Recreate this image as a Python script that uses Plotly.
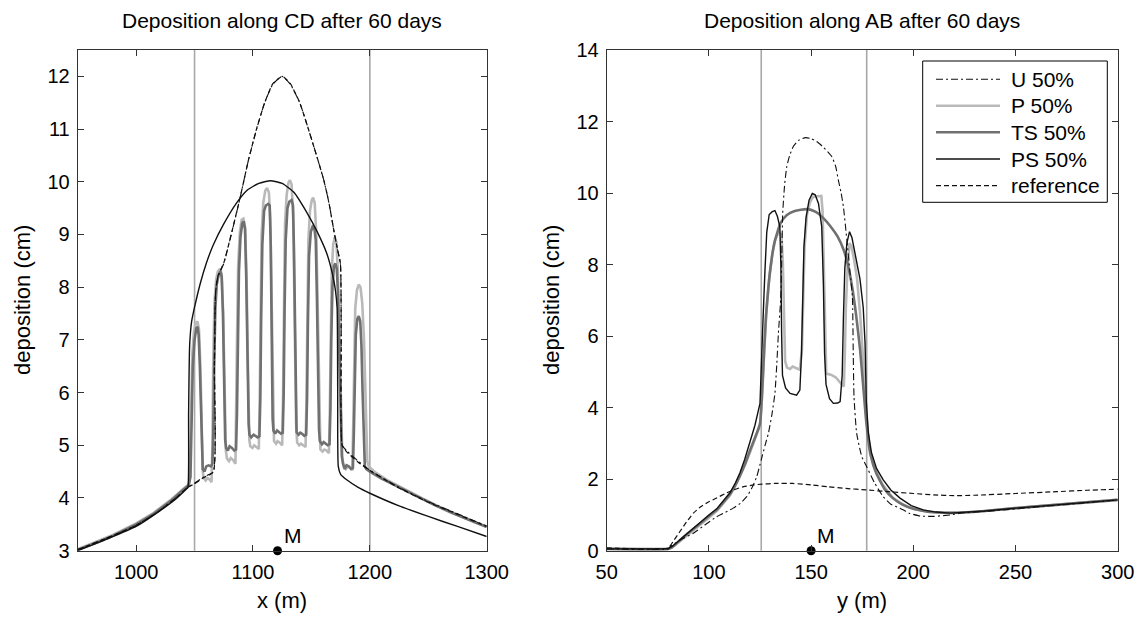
import plotly.graph_objects as go

# ---------------- data : left panel (along CD, x in m) ----------------
U_CD = [(950,3.02),(975,3.24),(1000,3.48),(1020,3.76),(1035,4.02),(1044,4.2),(1050,4.28),(1058,4.4),
        (1066,4.5),(1067,6.5),(1068,7.9),(1070,8.2),(1075,8.45),(1082,9.05),(1089,9.7),(1096,10.4),
        (1103,10.99),(1110,11.5),(1117,11.85),(1125,12.0),(1132,11.85),(1140,11.5),(1146,11.1),
        (1153,10.6),(1160.5,10.04),(1165,9.6),(1169,9.1),(1172,8.75),(1174.8,8.45),(1175.5,7.0),
        (1176.3,5.0),(1180,4.9),(1190,4.7),(1200,4.53),(1225,4.2),(1250,3.93),(1275,3.7),(1300,3.47)]

REF_CD = [(950,3.02),(975,3.24),(1000,3.48),(1020,3.76),(1035,4.02),(1044,4.2),(1050,4.27),(1058,4.39),
          (1066,4.49),(1067,6.5),(1068,7.9),(1070,8.21),(1075,8.46),(1082,9.06),(1089,9.7),(1096,10.4),
          (1103,11.0),(1110,11.5),(1117,11.86),(1125,12.0),(1132,11.86),(1140,11.5),(1146,11.1),
          (1153,10.6),(1160.5,10.04),(1165,9.6),(1169,9.1),(1172,8.75),(1174.8,8.45),(1175.5,7.0),
          (1176.3,5.0),(1180,4.88),(1190,4.68),(1200,4.52),(1225,4.19),(1250,3.92),(1275,3.69),(1300,3.46)]

P_CD = [(950,3.03),(965,3.16),(980,3.3),(1000,3.52),(1015,3.72),(1030,3.97),(1040,4.17),(1045,4.26),
        (1046,4.4),(1047,5.6),(1048,6.7),(1049.5,7.15),(1051,7.32),(1052.5,7.35),(1053.8,7.2),(1055,6.5),(1056,5.4),(1057,4.5),
        (1057.8,4.38),(1059.5,4.33),(1061,4.38),(1063,4.35),(1064.5,4.3),
        (1065.3,5.0),(1066,6.6),(1067,7.7),(1068.5,8.15),(1070,8.3),(1071.8,8.35),(1073.2,8.25),(1074.5,7.5),(1075.7,6.0),(1076.8,4.9),
        (1077.7,4.75),(1079.5,4.7),(1081,4.76),(1083,4.72),(1085,4.65),
        (1085.7,5.5),(1086.3,7.0),(1087.3,8.4),(1088.8,9.05),(1090.3,9.28),(1091.8,9.3),(1093.2,9.15),(1094.5,8.2),(1095.7,6.5),(1096.9,5.1),
        (1097.7,4.98),(1099.5,4.95),(1101,5.0),(1103,4.97),(1105,4.93),
        (1105.7,5.8),(1106.4,7.6),(1107.4,9.0),(1108.8,9.6),(1110.5,9.83),(1112,9.88),(1113.6,9.8),(1114.8,9.3),(1116,7.5),(1117.2,5.4),
        (1118,5.08),(1119.8,5.03),(1121,5.08),(1123,5.05),(1125,5.0),
        (1125.7,5.9),(1126.4,7.8),(1127.4,9.2),(1128.8,9.75),(1130.3,9.98),(1131.6,10.03),(1133,9.95),(1134.4,9.4),(1135.6,7.6),(1136.9,5.4),
        (1137.8,5.05),(1139.5,5.0),(1141,5.03),(1143,5.0),(1145,4.97),
        (1145.7,5.8),(1146.4,7.6),(1147.4,8.9),(1148.8,9.45),(1150.3,9.65),(1151.4,9.7),(1152.8,9.6),(1154.2,9.0),(1155.6,7.3),(1156.9,5.2),
        (1157.7,4.92),(1159.5,4.88),(1161,4.92),(1163,4.9),(1165,4.85),
        (1165.7,5.6),(1166.4,7.2),(1167.4,8.3),(1168.6,8.8),(1170,8.95),(1171.4,8.85),(1172.6,8.3),(1173.8,7.2),(1175,5.9),(1176.5,4.75),
        (1177.7,4.6),(1179.5,4.55),(1181,4.6),(1183,4.58),(1185,4.55),
        (1185.7,5.3),(1186.5,6.7),(1187.5,7.6),(1189,7.95),(1190.5,8.05),(1192,8.0),(1193.5,7.7),(1195,7.0),(1196.5,5.8),(1197.8,4.7),
        (1199,4.6),(1205,4.48),(1215,4.34),(1230,4.16),(1245,3.99),(1260,3.83),(1275,3.68),(1290,3.54),(1300,3.46)]

TS_CD = [(950,3.02),(965,3.14),(980,3.28),(1000,3.5),(1015,3.7),(1030,3.95),(1040,4.15),(1045,4.24),
         (1046.5,4.4),(1047.5,5.5),(1048.5,6.5),(1050,7.0),(1051.5,7.22),(1052.5,7.25),(1053.5,7.1),(1054.5,6.5),(1055.5,5.5),(1056.3,4.7),
         (1057,4.55),(1058.5,4.5),(1060,4.6),(1062,4.62),(1064,4.6),(1065.3,4.65),
         (1066,5.2),(1066.8,6.5),(1067.8,7.6),(1069,8.05),(1070.5,8.22),(1072,8.3),(1073.2,8.2),(1074.3,7.5),(1075.3,6.2),(1076.2,5.1),
         (1077,4.95),(1078.5,4.9),(1080,4.98),(1082,4.95),(1084,4.9),(1085.5,4.92),
         (1086.3,5.6),(1087,7.0),(1088,8.3),(1089.3,8.95),(1090.7,9.2),(1092,9.25),(1093.2,9.1),(1094.2,8.2),(1095.2,6.6),(1096.3,5.4),
         (1097,5.2),(1098.5,5.15),(1100.5,5.2),(1102,5.18),(1104,5.15),(1105.5,5.17),
         (1106.3,5.9),(1107,7.4),(1108,8.8),(1109.5,9.45),(1111,9.55),(1113,9.58),(1114.3,9.55),(1115.2,8.8),(1116,7.0),(1116.8,5.5),
         (1117.5,5.28),(1119,5.22),(1120.6,5.28),(1122,5.26),(1124,5.22),(1125.5,5.24),
         (1126.3,6.0),(1127,7.5),(1128,8.9),(1129.5,9.5),(1131,9.62),(1133,9.65),(1134.2,9.55),(1135.1,8.7),(1135.9,7.0),(1136.6,5.5),
         (1137.3,5.25),(1139,5.2),(1140.5,5.24),(1142,5.22),(1144,5.18),(1145.5,5.2),
         (1146.3,5.9),(1147,7.3),(1148,8.6),(1149.5,9.05),(1151,9.15),(1152.5,9.12),(1153.7,8.9),(1154.7,7.8),(1155.7,6.3),(1156.5,5.3),
         (1157.2,5.08),(1159,5.02),(1160.5,5.06),(1162,5.04),(1164,5.0),(1165.5,5.02),
         (1166.3,5.7),(1167,7.0),(1168,8.0),(1169.3,8.4),(1170.5,8.45),(1171.7,8.35),(1172.7,7.9),(1173.7,6.9),(1174.8,5.6),(1176,4.8),
         (1177,4.65),(1178.5,4.55),(1180,4.62),(1182,4.6),(1184,4.55),(1185.5,4.57),
         (1186.3,5.2),(1187,6.3),(1188,7.1),(1189.3,7.4),(1190.5,7.45),(1191.8,7.35),(1192.8,6.9),(1193.8,6.0),(1194.8,5.0),(1195.7,4.6),
         (1197,4.55),(1200,4.5),(1210,4.37),(1225,4.2),(1240,4.03),(1255,3.87),(1270,3.72),(1285,3.58),(1300,3.45)]

PS_CD = [(950,3.0),(975,3.22),(1000,3.46),(1020,3.75),(1035,4.0),(1043,4.17),(1044.3,4.2),(1044.9,5.6),
         (1045.8,6.9),(1047.5,7.35),(1050,7.62),(1055,8.08),(1060,8.45),(1066,8.8),(1075,9.2),(1086,9.6),
         (1095,9.84),(1105,9.97),(1115,10.02),(1125,9.97),(1135,9.8),(1146,9.42),(1155,9.05),(1163,8.65),
         (1168,8.25),(1170.5,7.95),(1172,7.6),(1172.5,6.0),(1173,4.6),(1175,4.45),(1180.5,4.34),
         (1190,4.2),(1200,4.09),(1225,3.85),(1250,3.65),(1275,3.46),(1300,3.27)]

# ---------------- data : right panel (along AB, y in m) ----------------
U_AB = [(50,0.05),(80,0.05),(81,0.11),(86,0.3),(92.4,0.49),(98,0.72),(103.8,0.95),(108,1.07),(111.9,1.19),
        (115.5,1.33),(118.5,1.51),(121,1.75),(123.4,2.07),(125.6,2.54),(127.5,2.95),(129.1,3.28),(130.8,3.8),
        (132.3,4.4),(133.2,5.2),(134,6.08),(135.1,7.0),(135.7,8.3),(136.1,9.43),(137,10.2),(138.1,10.74),
        (139.5,11.05),(141.3,11.3),(144,11.48),(147.3,11.55),(150,11.52),(152.7,11.44),(156,11.28),
        (160.1,11.02),(162,10.75),(163.3,10.37),(164.7,10.0),(165.8,9.62),(167.5,8.69),(169,7.8),
        (170.2,7.1),(170.6,5.6),(171,4.3),(172.3,3.28),(174.8,2.63),(177.2,2.35),(181,1.9),(185.3,1.51),
        (189,1.3),(193.5,1.19),(198,1.05),(203.3,0.97),(210,0.96),(218,1.0),(225,1.06),(240,1.12),
        (260,1.22),(280,1.32),(300,1.42)]

REF_AB = [(50,0.08),(80,0.08),(83,0.3),(86,0.55),(89,0.8),(92.4,1.05),(96,1.23),(100,1.37),(104,1.48),
          (108,1.6),(112,1.7),(117,1.79),(122,1.84),(126,1.86),(132,1.88),(141,1.88),(150,1.84),
          (158,1.79),(167,1.74),(177,1.7),(188,1.65),(200,1.6),(210,1.56),(220,1.54),(230,1.55),
          (250,1.6),(270,1.65),(285,1.69),(300,1.72)]

P_AB = [(50,0.05),(80,0.05),(82,0.09),(86,0.27),(90,0.45),(95.6,0.7),(100,0.92),(104,1.12),(107,1.32),
        (110.3,1.55),(113,1.82),(115.2,2.08),(117.5,2.38),(120.1,2.75),(122.5,3.1),(125,3.5),(126,4.3),
        (127,5.5),(128,6.6),(129.5,7.6),(131,8.3),(132.5,8.7),(134,8.9),(135.5,8.85),(136.2,8.0),
        (136.8,6.5),(137.3,5.3),(138.2,5.12),(139.7,5.08),(141,5.15),(142.5,5.12),(144.5,5.06),
        (145.5,5.6),(146,7.0),(146.8,8.5),(148,9.4),(149.5,9.75),(151,9.9),(153,9.92),(155,9.92),
        (155.6,9.5),(156.2,8.0),(156.8,6.0),(157.4,4.95),(159,4.93),(160.1,4.91),(162,4.85),(164,4.72),
        (166,4.59),(166.5,5.5),(167,6.8),(167.8,7.9),(168.8,8.6),(169.8,8.5),(171,8.15),(172.5,7.6),
        (174,6.6),(175.5,5.3),(176.8,3.9),(178.5,2.9),(181,2.3),(185,1.85),(190,1.48),(195,1.29),
        (200,1.17),(207,1.09),(215,1.06),(222,1.06),(235,1.11),(250,1.19),(265,1.26),(280,1.33),(300,1.42)]

TS_AB = [(50,0.05),(80,0.05),(82,0.1),(86,0.3),(90,0.5),(95.6,0.76),(100,0.97),(104,1.15),(107,1.35),
         (110.3,1.58),(113,1.85),(115.2,2.1),(117.5,2.4),(120.1,2.8),(122.5,3.15),(125,3.55),(126,4.4),
         (127,5.6),(128,6.6),(129,7.3),(130,7.85),(132,8.6),(135,9.15),(138,9.38),(142,9.5),(148,9.55),
         (152,9.48),(156,9.3),(160,9.03),(163,8.78),(166,8.4),(168,8.0),(170,7.4),(172,6.6),(174,5.6),
         (175.5,4.6),(177,3.6),(179,2.7),(182,2.15),(186,1.72),(190,1.47),(195,1.28),(200,1.17),
         (207,1.09),(215,1.06),(222,1.06),(235,1.11),(250,1.19),(265,1.26),(280,1.33),(300,1.42)]

PS_AB = [(50,0.05),(80,0.05),(82,0.12),(86,0.32),(90,0.52),(95.6,0.8),(100,1.0),(103.8,1.17),(107,1.38),
         (110.3,1.62),(113,1.9),(115.2,2.18),(117.5,2.55),(120.1,3.02),(122.5,3.5),(125,4.12),(125.8,5.15),
         (126.5,6.5),(127.4,7.8),(128.3,8.9),(129.5,9.4),(131,9.48),(132.3,9.51),(133.5,9.35),(134.7,9.06),
         (135.2,8.0),(135.6,6.0),(136,4.9),(137.5,4.55),(139.7,4.4),(142.9,4.35),(144.5,4.49),(145.3,5.5),
         (145.8,7.0),(146.5,8.5),(147.5,9.3),(149,9.8),(150.6,9.99),(152,9.95),(153.6,9.71),(155.2,9.06),
         (156,7.5),(156.6,5.5),(157.3,4.65),(159,4.25),(160.9,4.12),(163,4.13),(164.2,4.17),(165.2,4.9),
         (165.8,6.5),(166.5,7.9),(167.5,8.6),(168.8,8.92),(170,8.75),(172,8.1),(173.9,7.6),(175.5,6.8),
         (176.4,5.8),(177,4.2),(178,3.3),(179.5,2.75),(182,2.3),(185.3,1.98),(189,1.7),(193.5,1.47),
         (199,1.26),(204.9,1.14),(211,1.08),(218,1.05),(225,1.07),(235,1.11),(250,1.19),(265,1.26),
         (280,1.33),(300,1.42)]

LEGEND_NAMES = ["U 50%", "P 50%", "TS 50%", "PS 50%", "reference"]
TITLES = ["Deposition along CD after 60 days", "Deposition along AB after 60 days"]
XLABELS = ["x (m)", "y (m)"]
YLABEL = "deposition (cm)"
PATCH_CD = [1050, 1200]
PATCH_AB = [125.6, 177.2]
M_CD = 1121
M_AB = 150
XTICKS_CD = [1000, 1100, 1200, 1300]
YTICKS_CD = [3, 4, 5, 6, 7, 8, 9, 10, 11, 12]
XTICKS_AB = [50, 100, 150, 200, 250, 300]
YTICKS_AB = [0, 2, 4, 6, 8, 10, 12, 14]

# ---------------- styles ----------------
W, H = 1143, 617
FONT = "Liberation Sans, Arial, Helvetica, sans-serif"
C_P = "#b9b9b9"
C_TS = "#707070"
C_PS = "#111111"
DASHDOT = "7px,3px,2px,3px"
DASH = "5px,3px"
STYLES = {
    "U 50%": dict(color="#111111", width=1.1, dash=DASHDOT),
    "P 50%": dict(color=C_P, width=2.6, dash="solid"),
    "TS 50%": dict(color=C_TS, width=2.6, dash="solid"),
    "PS 50%": dict(color=C_PS, width=1.4, dash="solid"),
    "reference": dict(color="#111111", width=1.2, dash=DASH),
}
SMOOTH = {"U 50%", "reference"}

def px_x(p):
    return p / W

def px_y(p):
    return 1 - p / H

L_DOM = [px_x(77.7), px_x(486.7)]
R_DOM = [px_x(606.7), px_x(1117.7)]
Y_DOM = [px_y(550.7), px_y(50)]

fig = go.Figure()

def add_series(pairs, name, xa, ya, smooth=False):
    xs = [p[0] for p in pairs]
    ys = [p[1] for p in pairs]
    line = dict(STYLES[name])
    if smooth:
        line.update(shape="spline", smoothing=0.5)
    fig.add_trace(go.Scatter(x=xs, y=ys, mode="lines", name=name, line=line,
                             xaxis=xa, yaxis=ya, showlegend=False, hoverinfo="skip"))

order = [("P 50%", P_CD, P_AB), ("TS 50%", TS_CD, TS_AB), ("PS 50%", PS_CD, PS_AB),
         ("reference", REF_CD, REF_AB), ("U 50%", U_CD, U_AB)]
for name, cd, ab in order:
    add_series(cd, name, "x", "y", smooth=(name in SMOOTH or name == "PS 50%"))
    add_series(ab, name, "x2", "y2", smooth=(name in SMOOTH or name == "TS 50%"))

# M markers
fig.add_trace(go.Scatter(x=[M_CD], y=[3], mode="markers", marker=dict(size=9, color="black"),
                         xaxis="x", yaxis="y", cliponaxis=False, showlegend=False))
fig.add_trace(go.Scatter(x=[M_AB], y=[0], mode="markers", marker=dict(size=9, color="black"),
                         xaxis="x2", yaxis="y2", cliponaxis=False, showlegend=False))

shapes = []
for xv in PATCH_CD:
    shapes.append(dict(type="line", xref="x", yref="y domain", x0=xv, x1=xv, y0=0, y1=1,
                       line=dict(color="#a8a8a8", width=1.6), layer="below"))
for xv in PATCH_AB:
    shapes.append(dict(type="line", xref="x2", yref="y2 domain", x0=xv, x1=xv, y0=0, y1=1,
                       line=dict(color="#a8a8a8", width=1.6), layer="below"))

annotations = []
font_t = dict(family=FONT, size=21, color="black")
font_l = dict(family=FONT, size=22, color="black")
for dom, t, xl, ylx in [(L_DOM, TITLES[0], XLABELS[0], 22), (R_DOM, TITLES[1], XLABELS[1], 551)]:
    cx = (dom[0] + dom[1]) / 2
    annotations.append(dict(text=t, x=cx, y=px_y(20), xref="paper", yref="paper",
                            showarrow=False, xanchor="center", yanchor="middle", font=font_t))
    annotations.append(dict(text=xl, x=cx, y=px_y(600), xref="paper", yref="paper",
                            showarrow=False, xanchor="center", yanchor="middle", font=font_l))
    annotations.append(dict(text=YLABEL, x=px_x(ylx), y=px_y(300), xref="paper", yref="paper",
                            showarrow=False, xanchor="center", yanchor="middle", textangle=-90, font=font_l))

annotations.append(dict(text="M", x=M_CD, y=3, xref="x", yref="y", showarrow=False,
                        xanchor="left", yanchor="bottom", xshift=4, yshift=2, font=font_t))
annotations.append(dict(text="M", x=M_AB, y=0, xref="x2", yref="y2", showarrow=False,
                        xanchor="left", yanchor="bottom", xshift=4, yshift=2, font=font_t))

# legend box (drawn manually to match MATLAB style)
shapes.append(dict(type="rect", xref="paper", yref="paper", x0=px_x(922.7), x1=px_x(1107.3),
                   y0=px_y(202.3), y1=px_y(61), line=dict(color="black", width=1),
                   fillcolor="white", layer="above"))
rows = [79.3, 105.8, 132.3, 159.0, 185.7]
for name, ry in zip(LEGEND_NAMES, rows):
    st = STYLES[name]
    shapes.append(dict(type="line", xref="paper", yref="paper", x0=px_x(936), x1=px_x(1000),
                       y0=px_y(ry), y1=px_y(ry), line=dict(color=st["color"], width=st["width"], dash=st["dash"]),
                       layer="above"))
    annotations.append(dict(text=name, x=px_x(1009), y=px_y(ry), xref="paper", yref="paper",
                            showarrow=False, xanchor="left", yanchor="middle", font=font_t))

axis_common = dict(showline=True, linecolor="#333333", linewidth=1, mirror="ticks", ticks="inside",
                   ticklen=6, tickwidth=1, tickcolor="#333333", showgrid=False, zeroline=False,
                   tickfont=dict(family=FONT, size=20, color="black"), automargin=False)

fig.update_layout(
    width=W, height=H, margin=dict(l=0, r=0, t=0, b=0),
    paper_bgcolor="white", plot_bgcolor="white", showlegend=False,
    xaxis=dict(domain=L_DOM, range=[950, 1300], tickvals=XTICKS_CD, anchor="y",
               ticklabelstandoff=3, **axis_common),
    yaxis=dict(domain=Y_DOM, range=[3, 12.5], tickvals=YTICKS_CD, anchor="x",
               ticklabelstandoff=3, **axis_common),
    xaxis2=dict(domain=R_DOM, range=[50, 300], tickvals=XTICKS_AB, anchor="y2",
                ticklabelstandoff=3, **axis_common),
    yaxis2=dict(domain=Y_DOM, range=[0, 14], tickvals=YTICKS_AB, anchor="x2",
                ticklabelstandoff=3, **axis_common),
    shapes=shapes, annotations=annotations,
)

fig.write_html("out.html")
